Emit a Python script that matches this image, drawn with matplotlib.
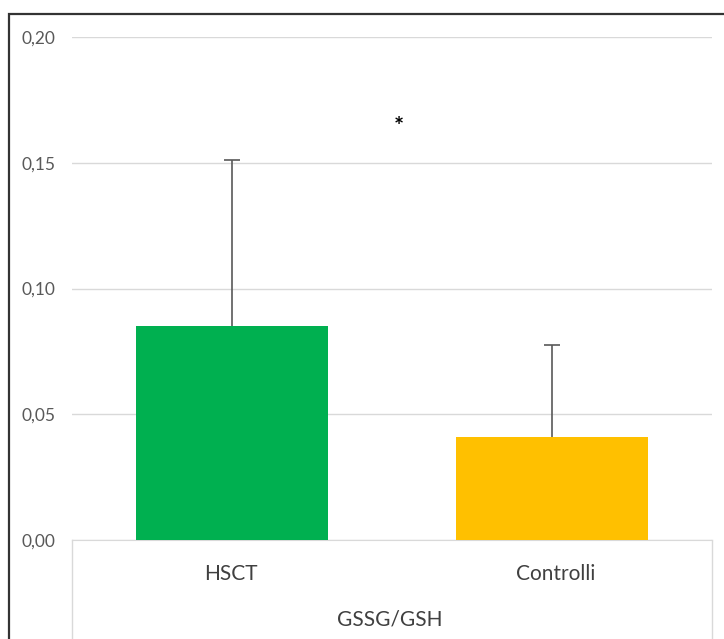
import matplotlib.pyplot as plt
from matplotlib.patches import Rectangle
from matplotlib.lines import Line2D

groups = ["HSCT", "Controlli"]
means = [0.085, 0.041]
sd_up = [0.066, 0.0365]
colors = ["#00B050", "#FFC000"]
yticks = [0.00, 0.05, 0.10, 0.15, 0.20]
ytick_labels = ["0,00", "0,05", "0,10", "0,15", "0,20"]
group_title = "GSSG/GSH"
star_y = 0.164

plt.rcParams['font.family'] = ['Lato', 'DejaVu Sans']

W, H = 724, 639
fig = plt.figure(figsize=(W / 100, H / 100), dpi=100)
ax = fig.add_axes([72 / W, (H - 540) / H, 640 / W, 503 / H])

x = range(len(groups))
ax.bar(x, means, width=0.6, color=colors, zorder=3)
# upper whiskers only
eb = ax.errorbar(x, means, yerr=[[0] * len(sd_up), sd_up], fmt="none",
                 ecolor="#595959", elinewidth=1.2, capsize=6, capthick=1.2,
                 zorder=2)
eb[1][0].set_visible(False)
ax.text(0.522, star_y, "*", ha="center", va="center", fontsize=17,
        fontweight="bold", color="black")

ax.set_xlim(-0.5, 1.5)
ax.set_ylim(0, 0.2)
ax.set_yticks(yticks)
ax.set_yticklabels(ytick_labels)
ax.set_xticks([])
ax.tick_params(axis="y", length=0, pad=12, labelsize=12.5, labelcolor="#595959")
ax.yaxis.grid(True, color="#d9d9d9", linewidth=1)
ax.set_axisbelow(True)
for s in ax.spines.values():
    s.set_visible(False)
ax.spines["bottom"].set_visible(True)
ax.spines["bottom"].set_color("#d9d9d9")

# category table under the axis
for xp in (72, 712):
    fig.add_artist(Line2D([xp / W, xp / W], [0, (H - 540) / H],
                          color="#d9d9d9", linewidth=1))
label_x = [231, 556]
for g, lx in zip(groups, label_x):
    fig.text(lx / W, (H - 574) / H, g, ha="center", va="center",
             fontsize=15, color="#404040")
fig.text(390 / W, (H - 620) / H, group_title, ha="center", va="center",
         fontsize=15, color="#404040")

# outer frame
fig.add_artist(Rectangle((9 / W, -0.1), 1.2, (H - 14) / H + 0.1,
                         transform=fig.transFigure, fill=False,
                         edgecolor="#333333", linewidth=1.6))

fig.savefig("out.png", dpi=100)
